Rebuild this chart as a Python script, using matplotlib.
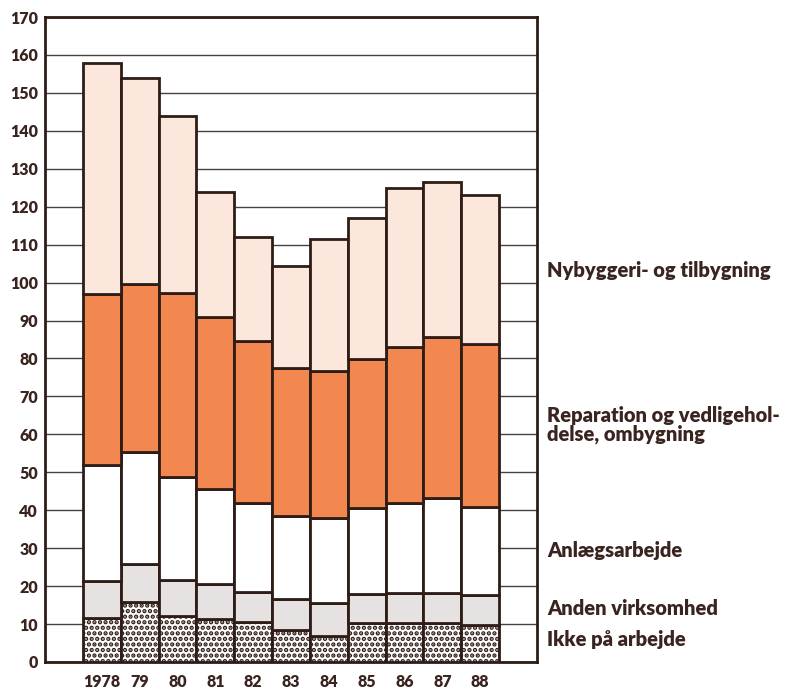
import matplotlib
matplotlib.use('Agg')
from matplotlib import pyplot as plt
import numpy as np

# Data (index, stacked bottom -> top)
years = ['1978', '79', '80', '81', '82', '83', '84', '85', '86', '87', '88']
ikke_paa_arbejde = [11.7, 15.9, 12.1, 11.2, 10.6, 8.4, 6.9, 10.2, 10.2, 10.2, 9.8]
anden_virksomhed = [9.6, 9.9, 9.5, 9.3, 7.9, 8.1, 8.7, 7.6, 7.9, 7.9, 7.9]
anlaegsarbejde = [30.6, 29.6, 27.2, 25.0, 23.4, 22.0, 22.4, 22.9, 23.8, 25.0, 23.1]
reparation = [45.1, 44.1, 48.5, 45.4, 42.7, 39.1, 38.6, 39.1, 41.1, 42.5, 42.9]
nybyggeri = [61.0, 54.5, 46.7, 33.1, 27.4, 26.9, 34.9, 37.2, 42.0, 40.9, 39.3]

labels = ['Ikke på arbejde', 'Anden virksomhed', 'Anlægsarbejde',
          'Reparation og vedligehol-\ndelse, ombygning', 'Nybyggeri- og tilbygning']
label_y = [5.8, 14.2, 29.5, 62.5, 103.3]

plt.rcParams['font.family'] = ['Lato', 'DejaVu Sans']
plt.rcParams['hatch.linewidth'] = 2.2

dark = '#2e1c16'
text_col = '#3a2420'

fig = plt.figure(figsize=(7.99, 6.89), dpi=100)
ax = fig.add_axes([0.0563, 0.0392, 0.6158, 0.9361])

x = np.arange(len(years))
series = [ikke_paa_arbejde, anden_virksomhed, anlaegsarbejde, reparation, nybyggeri]
faces = ['white', '#e6e2e1', 'white', '#f2874f', '#fbe7dc']
hatches = ['...', None, None, None, None]

bottom = np.zeros(len(years))
for vals, fc, h in zip(series, faces, hatches):
    ax.bar(x, vals, width=1.0, bottom=bottom, color=fc, edgecolor=dark,
           linewidth=2.0, hatch=h, zorder=3)
    bottom += np.array(vals)

ax.set_xlim(-1.5, 11.5)
ax.set_ylim(0, 170)
ax.set_yticks(range(0, 171, 10))
ax.set_xticks(x)
ax.set_xticklabels(years)
ax.tick_params(axis='both', length=0, labelsize=11.5, colors=text_col)
ax.tick_params(axis='x', pad=9)
ax.tick_params(axis='y', pad=5)
for t in ax.get_xticklabels() + ax.get_yticklabels():
    t.set_fontweight('heavy')

ax.grid(axis='y', color='#4a4040', linewidth=1.0, zorder=1)
for s in ax.spines.values():
    s.set_color(dark)
    s.set_linewidth(2.0)

for lab, yy in zip(labels, label_y):
    ax.text(1.02, yy, lab, transform=ax.get_yaxis_transform(), ha='left',
            va='center', fontsize=14.5, fontweight='heavy', color=text_col,
            linespacing=1.0)

fig.savefig('out.png', dpi=100)
